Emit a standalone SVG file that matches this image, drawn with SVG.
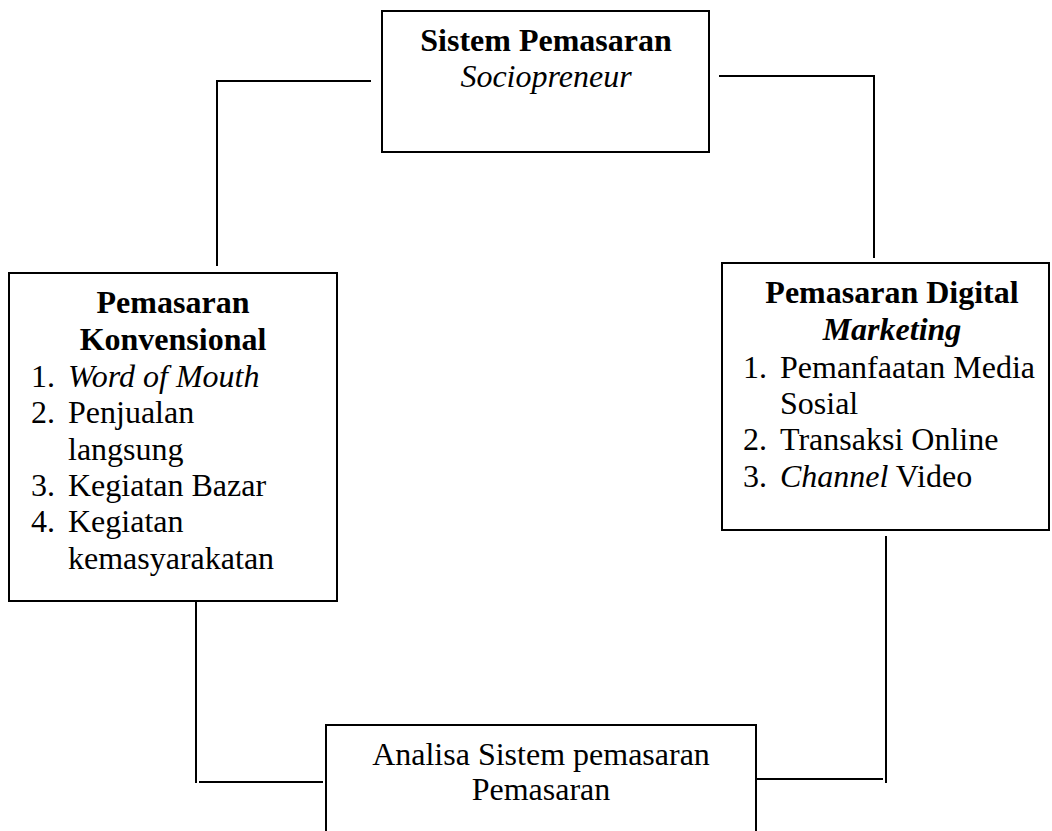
<svg xmlns="http://www.w3.org/2000/svg" width="1052" height="831" viewBox="0 0 1052 831">
<style>
.box{fill:#fff;stroke:#000;stroke-width:2}
.ln{fill:none;stroke:#000;stroke-width:2}
text{font-family:"Liberation Serif","Times New Roman",serif;font-size:32px;fill:#000}
.b{font-weight:bold}
.i{font-style:italic}
.c{text-anchor:middle}
</style>
<rect width="1052" height="831" fill="#fff"/>
<g id="connectors">
<polyline class="ln" points="371,81 217,81 217,266"/>
<polyline class="ln" points="719,76 874,76 874,258"/>
<line class="ln" x1="196" y1="601" x2="196" y2="783"/>
<line class="ln" x1="199" y1="782" x2="323" y2="782"/>
<line class="ln" x1="757" y1="779" x2="883" y2="779"/>
<line class="ln" x1="886" y1="536" x2="886" y2="783"/>
</g>
<g id="node-top">
<rect class="box" x="382" y="11" width="327" height="141"/>
<text class="c b" x="546" y="51">Sistem Pemasaran</text>
<text class="c i" x="546" y="87">Sociopreneur</text>
</g>
<g id="node-left">
<rect class="box" x="9" y="273" width="328" height="328"/>
<text class="c b" x="173" y="313">Pemasaran</text>
<text class="c b" x="173" y="350">Konvensional</text>
<text x="31" y="387">1.</text><text class="i" x="68" y="387">Word of Mouth</text>
<text x="31" y="423">2.</text><text x="68" y="423">Penjualan</text>
<text x="68" y="460">langsung</text>
<text x="31" y="496">3.</text><text x="68" y="496">Kegiatan Bazar</text>
<text x="31" y="532">4.</text><text x="68" y="532">Kegiatan</text>
<text x="68" y="569">kemasyarakatan</text>
</g>
<g id="node-right">
<rect class="box" x="722" y="263" width="327" height="267"/>
<text class="c b" x="892" y="303">Pemasaran Digital</text>
<text class="c b i" x="892" y="340">Marketing</text>
<text x="743" y="378">1.</text><text x="780" y="378">Pemanfaatan Media</text>
<text x="780" y="414">Sosial</text>
<text x="743" y="450">2.</text><text x="780" y="450">Transaksi Online</text>
<text x="743" y="487">3.</text><text x="780" y="487"><tspan class="i">Channel</tspan> Video</text>
</g>
<g id="node-bottom">
<rect class="box" x="326" y="725" width="430" height="120"/>
<text class="c" x="541" y="765">Analisa Sistem pemasaran</text>
<text class="c" x="541" y="800">Pemasaran</text>
</g>
</svg>
